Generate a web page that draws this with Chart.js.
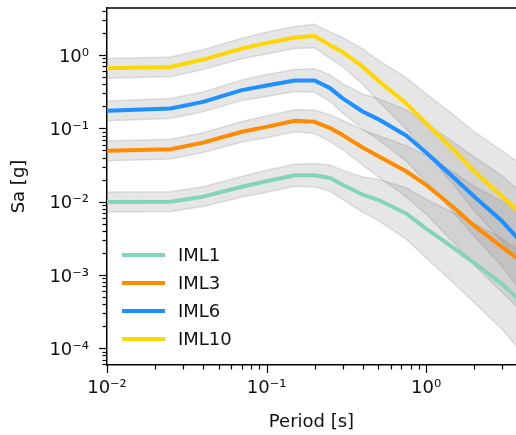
<!DOCTYPE html>
<html>
<head>
<meta charset="utf-8">
<script src="https://cdn.jsdelivr.net/npm/chart.js@4.4.1/dist/chart.umd.min.js"></script>
<style>
  html, body { margin: 0; padding: 0; background: #fff; }
  #wrap { width: 516px; height: 435px; }
</style>
</head>
<body>
<div id="wrap"><canvas id="chart" width="516" height="435"></canvas></div>
<script>
// ── Data ──────────────────────────────────────────────────────────────────
const PERIODS = [0.01, 0.025, 0.04, 0.07, 0.1, 0.15, 0.2, 0.25, 0.3, 0.4, 0.5, 0.75, 1.0, 1.5, 2.0, 3.0, 4.0];

const IML1  = [0.0099, 0.0100, 0.0117, 0.016, 0.019, 0.023, 0.023, 0.021, 0.017, 0.0125, 0.0106, 0.0069, 0.0043, 0.0023, 0.00146, 0.00075, 0.00042];
const IML3  = [0.0495, 0.052, 0.064, 0.090, 0.105, 0.127, 0.123, 0.101, 0.081, 0.055, 0.042, 0.026, 0.017, 0.0082, 0.0047, 0.0024, 0.0015];
const IML6  = [0.174, 0.187, 0.23, 0.333, 0.385, 0.45, 0.45, 0.355, 0.257, 0.170, 0.134, 0.080, 0.047, 0.021, 0.0118, 0.0054, 0.0027];
const IML10 = [0.66, 0.69, 0.87, 1.23, 1.46, 1.74, 1.83, 1.37, 1.10, 0.70, 0.45, 0.22, 0.118, 0.050, 0.026, 0.0118, 0.0066];

// half-width of the grey band, in decades, per period
const SPREAD = [0.135, 0.135, 0.135, 0.14, 0.15, 0.15, 0.16, 0.18, 0.20, 0.24, 0.28, 0.35, 0.40, 0.48, 0.54, 0.62, 0.68];

const SERIES_NAMES  = ['IML1', 'IML3', 'IML6', 'IML10'];
const SERIES_VALUES = [IML1, IML3, IML6, IML10];
const SERIES_COLORS = ['#84d5b7', '#ff8c00', '#1e90ff', '#ffd700'];

const X_MAJOR  = [0.01, 0.1, 1];
const X_LABELS = ['10⁻²', '10⁻¹', '10⁰'];
const Y_MAJOR  = [1e-4, 1e-3, 1e-2, 1e-1, 1];
const Y_LABELS = ['10⁻⁴', '10⁻³', '10⁻²', '10⁻¹', '10⁰'];
const MINOR_STEPS = [2, 3, 4, 5, 6, 7, 8, 9];

const X_RANGE = [0.01, 3.66];
const Y_RANGE = [5.9e-5, 4.4];

// ── Helpers ───────────────────────────────────────────────────────────────
function logTicks(majors, range) {
    const out = [];
    majors.concat([majors[0] / 10, majors[majors.length - 1] * 10]).forEach(m => {
        out.push({ value: m, major: majors.includes(m) });
        MINOR_STEPS.forEach(s => out.push({ value: m * s, major: false }));
    });
    return out
        .filter(t => t.value >= range[0] * 0.9999 && t.value <= range[1] * 1.0001)
        .sort((a, b) => a.value - b.value);
}

function labelFor(majors, labels) {
    return function (val) {
        const i = majors.findIndex(m => Math.abs(Math.log10(m) - Math.log10(val)) < 1e-6);
        return i >= 0 ? labels[i] : '';
    };
}

const pts = arr => PERIODS.map((p, i) => ({ x: p, y: arr[i] }));

// ── Datasets ──────────────────────────────────────────────────────────────
const BAND_FILL = 'rgba(128,128,128,0.2)';
const BAND_EDGE = 'rgba(128,128,128,0.22)';

const datasets = [];
SERIES_VALUES.forEach((vals, k) => {
    const upper = vals.map((v, i) => v * Math.pow(10, SPREAD[i]));
    const lower = vals.map((v, i) => v / Math.pow(10, SPREAD[i]));
    datasets.push({
        label: '_band' + k, data: pts(upper), order: 1,
        borderColor: BAND_EDGE, borderWidth: 1.5, backgroundColor: BAND_FILL,
        fill: '+1', pointRadius: 0, tension: 0
    });
    datasets.push({
        label: '_band' + k, data: pts(lower), order: 1,
        borderColor: BAND_EDGE, borderWidth: 1.5, fill: false,
        pointRadius: 0, tension: 0
    });
});
SERIES_VALUES.forEach((vals, k) => {
    datasets.push({
        label: SERIES_NAMES[k], data: pts(vals), order: 0,
        borderColor: SERIES_COLORS[k], borderWidth: 4, fill: false,
        pointRadius: 0, tension: 0, borderJoinStyle: 'round'
    });
});

// ── Tick marks, top spine, legend ────────────────────────────────────────
const decor = {
    id: 'decor',
    afterDraw(chart) {
        const { ctx, chartArea: a, scales: { x, y } } = chart;
        ctx.save();
        ctx.strokeStyle = '#000';
        ctx.lineWidth = 1.2;
        x.ticks.forEach(t => {
            const px = Math.round(x.getPixelForValue(t.value)) + 0.5;
            const len = t.major ? 8 : 4.5;
            ctx.beginPath(); ctx.moveTo(px, a.bottom); ctx.lineTo(px, a.bottom + len); ctx.stroke();
        });
        y.ticks.forEach(t => {
            const py = Math.round(y.getPixelForValue(t.value)) + 0.5;
            const len = t.major ? 8 : 4.5;
            ctx.beginPath(); ctx.moveTo(a.left, py); ctx.lineTo(a.left - len, py); ctx.stroke();
        });
        // top spine
        ctx.lineWidth = 1.5;
        ctx.beginPath(); ctx.moveTo(a.left, a.top); ctx.lineTo(a.right, a.top); ctx.stroke();

        // legend, lower left inside the axes
        const rowH = 28;
        const x0 = a.left + 15, x1 = x0 + 43, tx = x1 + 13;
        let cy = a.bottom - 26 - rowH * (SERIES_NAMES.length - 1);
        ctx.font = '18px "DejaVu Sans"';
        ctx.textBaseline = 'middle';
        ctx.textAlign = 'left';
        SERIES_NAMES.forEach((name, k) => {
            ctx.strokeStyle = SERIES_COLORS[k];
            ctx.lineWidth = 4;
            ctx.beginPath(); ctx.moveTo(x0, cy); ctx.lineTo(x1, cy); ctx.stroke();
            ctx.fillStyle = '#111';
            ctx.fillText(name, tx, cy + 1);
            cy += rowH;
        });
        ctx.restore();
    }
};

Chart.defaults.font.family = '"DejaVu Sans", sans-serif';
Chart.defaults.color = '#111';

new Chart(document.getElementById('chart'), {
    type: 'line',
    data: { datasets },
    options: {
        responsive: false,
        animation: false,
        events: [],
        layout: { padding: { top: 8, right: 0, left: 0, bottom: 0 } },
        plugins: { legend: { display: false }, tooltip: { enabled: false } },
        scales: {
            x: {
                type: 'logarithmic',
                min: X_RANGE[0], max: X_RANGE[1],
                afterBuildTicks: s => { s.ticks = logTicks(X_MAJOR, X_RANGE); },
                afterFit: s => { s.height = 70; s.paddingLeft = 0; s.paddingRight = 0; },
                grid: { display: false, drawTicks: false },
                border: { display: true, color: '#000', width: 1.5 },
                ticks: {
                    autoSkip: false, maxRotation: 0, padding: 13,
                    font: { size: 18 }, color: '#111',
                    callback: labelFor(X_MAJOR, X_LABELS)
                },
                title: { display: true, text: 'Period [s]', font: { size: 18 }, color: '#111', padding: { top: 0, bottom: 2 } }
            },
            y: {
                type: 'logarithmic',
                min: Y_RANGE[0], max: Y_RANGE[1],
                afterBuildTicks: s => { s.ticks = logTicks(Y_MAJOR, Y_RANGE); },
                afterFit: s => { s.width = 107; s.paddingTop = 0; s.paddingBottom = 0; },
                grid: { display: false, drawTicks: false },
                border: { display: true, color: '#000', width: 1.5 },
                ticks: {
                    autoSkip: false, padding: 18, labelOffset: 2,
                    font: { size: 18 }, color: '#111',
                    callback: labelFor(Y_MAJOR, Y_LABELS)
                },
                title: { display: true, text: 'Sa [g]', font: { size: 18 }, color: '#111', padding: { top: 9, bottom: 0 } }
            }
        }
    },
    plugins: [decor]
});
</script>
</body>
</html>
